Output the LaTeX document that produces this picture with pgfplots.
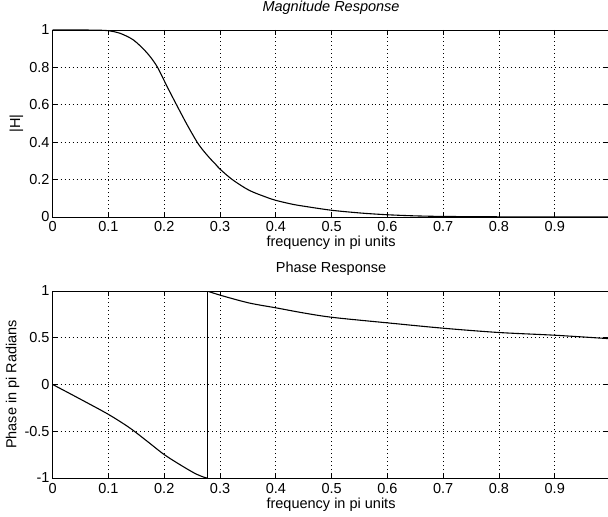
\documentclass[border=0pt]{standalone}
\usepackage{fontspec}
\setmainfont{Liberation Sans}
\usepackage{pgfplots}
\pgfplotsset{compat=1.18}
\begin{document}
\fontsize{14.5bp}{17bp}\selectfont
\begin{tikzpicture}
\useasboundingbox (0,0) rectangle (608bp,517bp);
\pgfplotsset{
  every axis/.append style={
    font=\fontsize{14.5bp}{17bp}\selectfont,
    scale only axis, width=556.7bp, height=187bp,
    xmin=0, xmax=0.998,
    xtick={0,0.1,0.2,0.3,0.4,0.5,0.6,0.7,0.8,0.9},
    grid=major,
    major grid style={black, line width=0.7pt, dash pattern=on 0.7pt off 3.3pt},
    tick align=inside, major tick length=5bp,
    tick style={black, line width=0.8pt},
    axis line style={line width=0.9pt},
    /pgf/number format/assume math mode=true,
    xticklabel style={anchor=base, yshift=-15bp},
    yticklabel style={anchor=east, inner sep=2bp, xshift=-1bp},
    title style={at={(0.5,1)}, anchor=base, yshift=13bp},
    xlabel style={at={(0.5,0)}, anchor=base, yshift=-30bp},
  },
}
\begin{axis}[at={(52.7bp,300bp)}, anchor=south west,
  ymin=0, ymax=1, ytick={0,0.2,0.4,0.6,0.8,1},
  title={\itshape Magnitude Response},
  xlabel={frequency in pi units},
  ylabel={|H|},
  ylabel style={at={(axis description cs:-0.065,0.5)}, anchor=center},
]
\addplot[black, line width=1.1pt, smooth, tension=0.5] coordinates {
(0,1) (0.05,1) (0.08,0.999) (0.1,0.996) (0.121,0.982) (0.145,0.946) (0.169,0.878)
(0.187,0.805) (0.205,0.698) (0.222,0.6) (0.241,0.493) (0.259,0.4) (0.27,0.355)
(0.283,0.31) (0.292,0.282) (0.3,0.256) (0.322,0.2) (0.352,0.143) (0.382,0.107)
(0.4,0.089) (0.43,0.068) (0.454,0.056) (0.5,0.036) (0.553,0.021) (0.6,0.012)
(0.65,0.006) (0.7,0.003) (0.8,0.001) (0.9,0.0) (0.998,0.0)
};
\end{axis}
\begin{axis}[at={(52.7bp,39bp)}, anchor=south west,
  ymin=-1, ymax=1, ytick={-1,-0.5,0,0.5,1},
  title={Phase Response},
  xlabel={frequency in pi units},
  ylabel={Phase in pi Radians},
  ylabel style={at={(axis description cs:-0.072,0.5)}, anchor=center},
]
\addplot[black, line width=1.1pt, smooth, tension=0.5] coordinates {
(0,0) (0.05,-0.158) (0.1,-0.32) (0.138,-0.464) (0.17,-0.61) (0.2,-0.75)
(0.233,-0.875) (0.257,-0.957) (0.272,-0.993) (0.277,-1)
};
\addplot[black, line width=1.1pt] coordinates {(0.277,-1) (0.277,1)};
\addplot[black, line width=1.1pt, smooth, tension=0.5] coordinates {
(0.277,1) (0.301,0.954) (0.352,0.872) (0.402,0.818) (0.45,0.765) (0.503,0.717)
(0.604,0.657) (0.7,0.602) (0.8,0.556) (0.9,0.527) (0.998,0.49)
};
\end{axis}
\end{tikzpicture}
\end{document}
